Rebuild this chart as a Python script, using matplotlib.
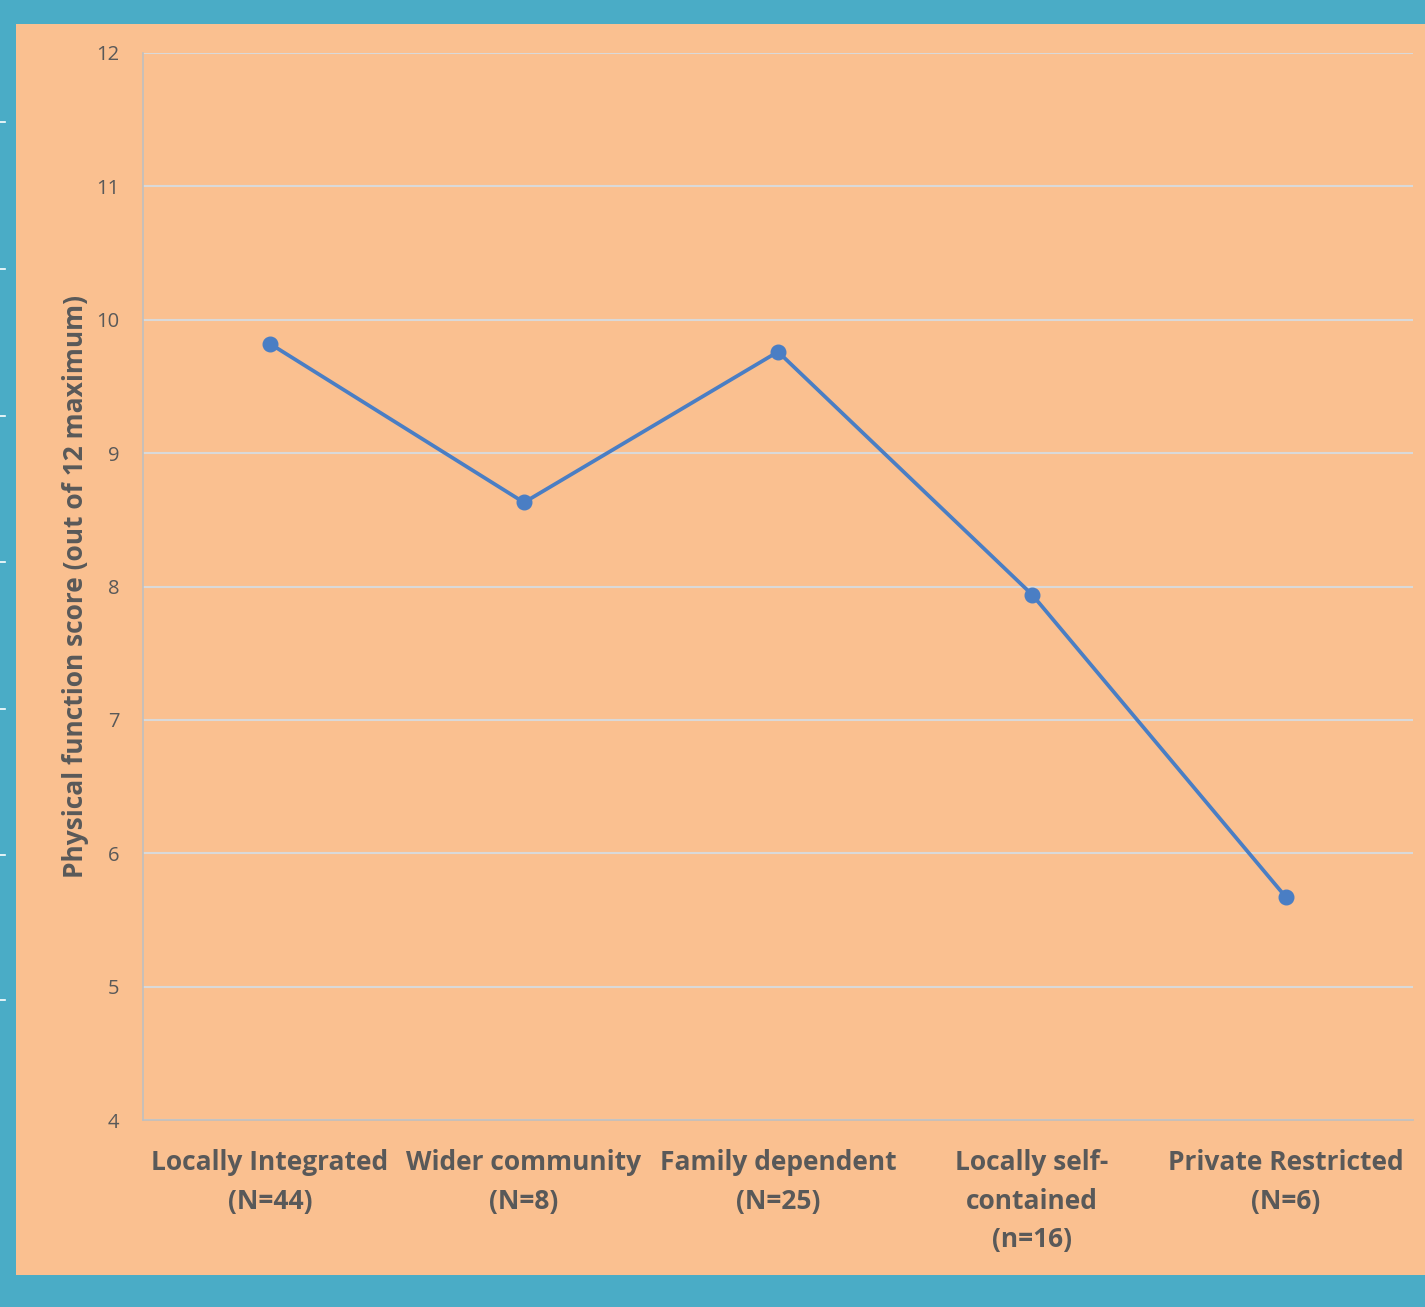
import matplotlib
matplotlib.use('Agg')
import matplotlib.pyplot as plt
from matplotlib.patches import Rectangle

# data
categories = ['Locally Integrated\n(N=44)', 'Wider community\n(N=8)', 'Family dependent\n(N=25)',
              'Locally self-\ncontained\n(n=16)', 'Private Restricted\n(N=6)']
scores = [9.82, 8.63, 9.76, 7.94, 5.67]
y_ticks = [4, 5, 6, 7, 8, 9, 10, 11, 12]

teal = '#4AACC6'
orange = '#FAC090'
text_grey = '#595959'
line_blue = '#4A7EC4'

plt.rcParams['font.family'] = ['Open Sans', 'DejaVu Sans']

W, H = 1425, 1307
fig = plt.figure(figsize=(W / 100, H / 100), dpi=100)
fig.patch.set_facecolor(teal)

# orange panel of the slide
fig.patches.append(Rectangle((16 / W, 1 - 1275 / H), 1 - 16 / W, (1275 - 24) / H,
                             transform=fig.transFigure, facecolor=orange, edgecolor='none', zorder=-10))

# small ruler ticks on the left border
for yp in [122, 269, 416, 562, 709, 855, 1000]:
    fig.add_artist(plt.Line2D([0, 5 / W], [1 - yp / H, 1 - yp / H], transform=fig.transFigure,
                              color='white', lw=1.2))

ax = fig.add_axes([143 / W, 1 - 1120 / H, (1413 - 143) / W, (1120 - 53) / H])
ax.set_facecolor('none')

x = list(range(len(categories)))
ax.plot(x, scores, color=line_blue, lw=2.7, marker='o', markersize=10.5, zorder=3)

ax.set_xlim(-0.5, len(categories) - 0.5)
ax.set_ylim(4, 12)
ax.set_yticks(y_ticks)
ax.set_yticklabels([str(t) for t in y_ticks], fontsize=14.5, color=text_grey)
ax.set_xticks(x)
ax.set_xticklabels(categories, fontsize=19, fontweight='bold', color=text_grey, linespacing=1.55)
ax.tick_params(axis='both', length=0)
ax.tick_params(axis='x', pad=21)
ax.tick_params(axis='y', pad=17)

ax.grid(axis='y', color='#D9D9D9', lw=1.5, zorder=1)
for side in ['top', 'right']:
    ax.spines[side].set_visible(False)
ax.spines['left'].set_color('#BFBFBF')
ax.spines['bottom'].set_color('#BFBFBF')
ax.spines['left'].set_linewidth(1.2)
ax.spines['bottom'].set_linewidth(1.2)

ax.set_ylabel('Physical function score (out of 12 maximum)', fontsize=19, fontweight='bold',
              color=text_grey, labelpad=5)

fig.savefig('out.png', dpi=100, facecolor=fig.get_facecolor())
